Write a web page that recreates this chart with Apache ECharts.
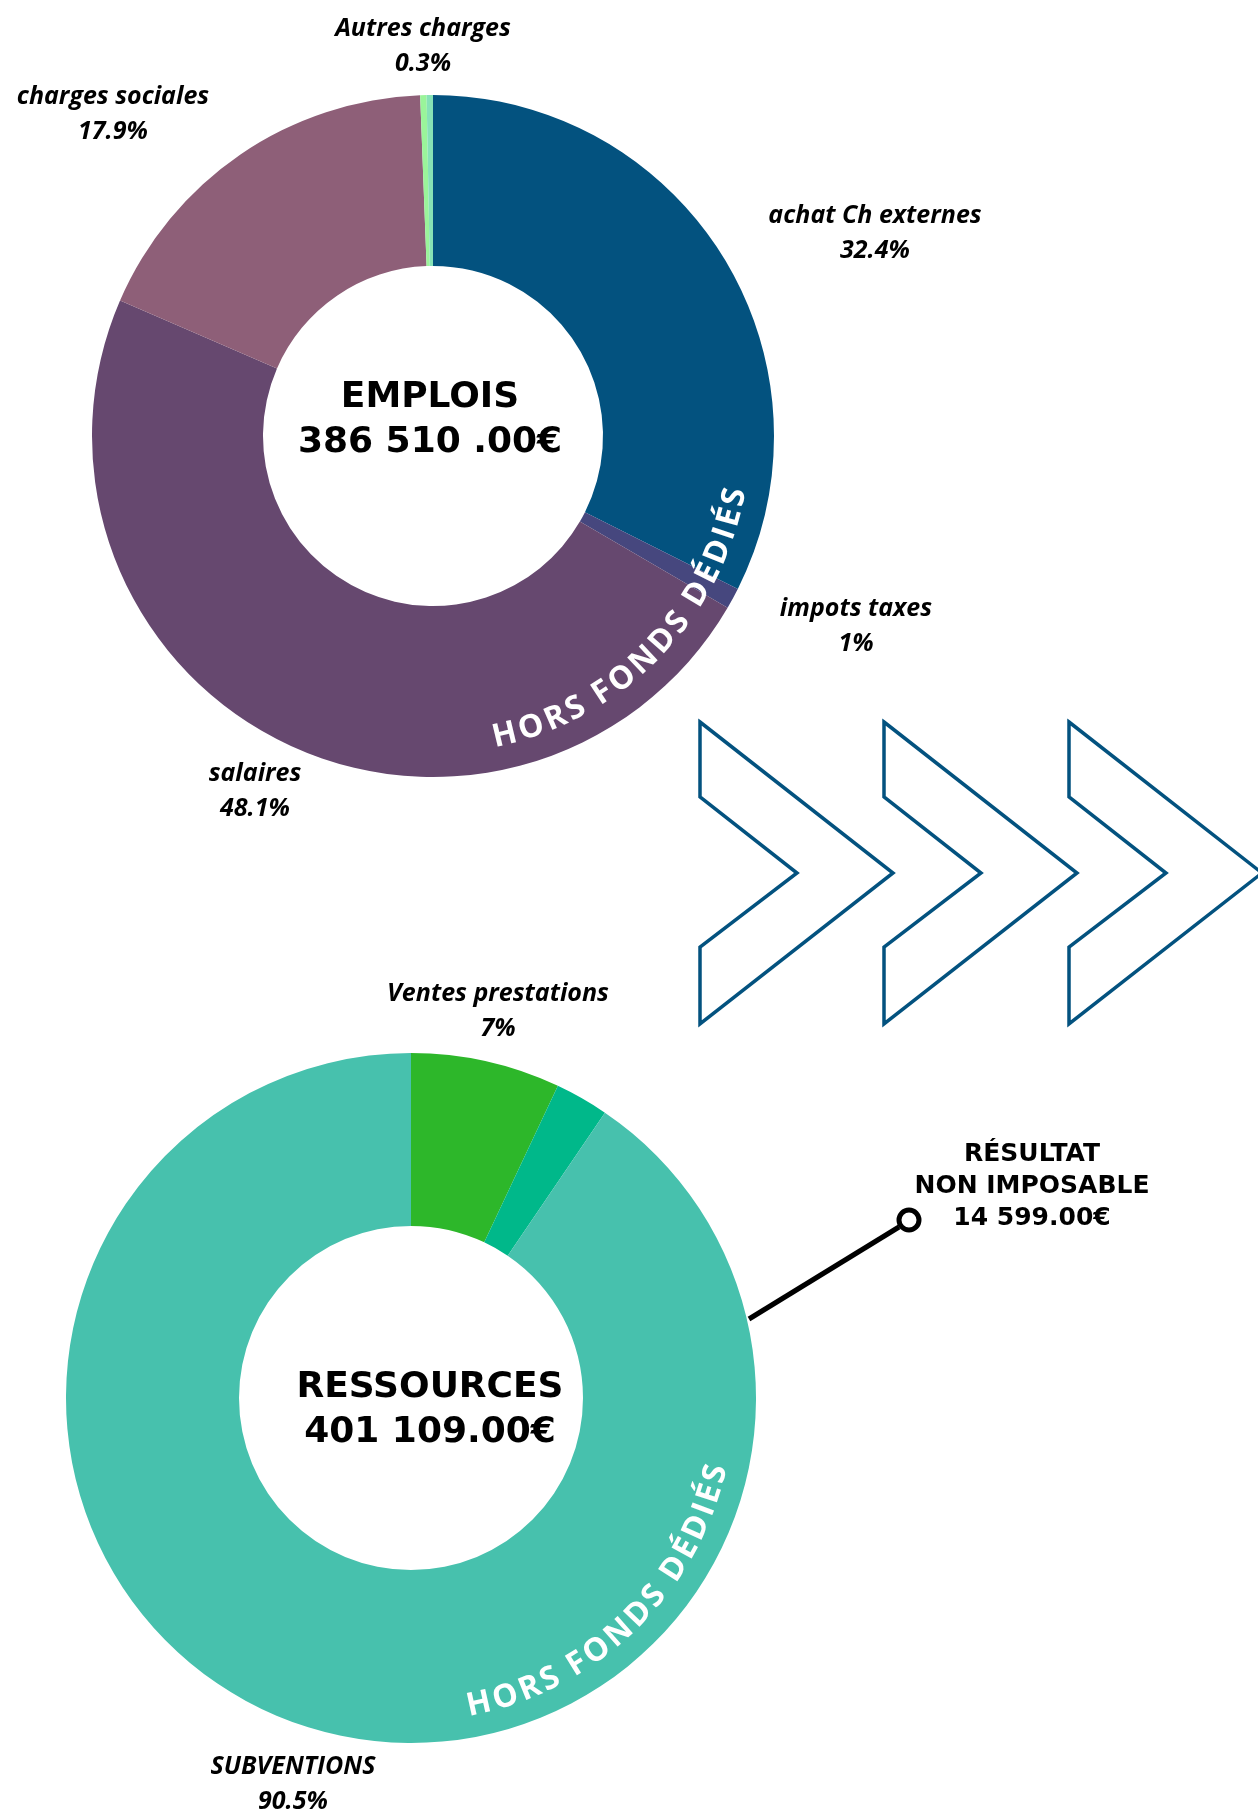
<!DOCTYPE html>
<html>
<head>
<meta charset="utf-8">
<title>Emplois / Ressources</title>
<script src="https://cdn.jsdelivr.net/npm/echarts@6/dist/echarts.min.js"></script>
<style>
  html, body { margin: 0; padding: 0; background: #fff; }
  #chart { width: 1258px; height: 1812px; }
</style>
</head>
<body>
<div id="chart"></div>
<script>
// --- emplois (charges) ---
// last slice is the thin unlabelled one at 12 o'clock
const emploisNames = ["achat Ch externes", "impots taxes", "salaires", "charges sociales", "Autres charges", "autres"];
const emploisValues = [32.4, 1, 48.1, 17.9, 0.3, 0.3];
const emploisTitle = "EMPLOIS";
const emploisTotal = "386 510 .00€";

// --- ressources (produits) ---
const ressourcesNames = ["Ventes prestations", "Autres produits", "SUBVENTIONS"];
const ressourcesValues = [7, 2.5, 90.5];
const ressourcesTitle = "RESSOURCES";
const ressourcesTotal = "401 109.00€";

// --- resultat ---
const resultatLines = ["RÉSULTAT", "NON IMPOSABLE", "14 599.00€"];
const ringText = "HORS FONDS DÉDIÉS";

// colours
const emploisColors = ["#03527f", "#46477e", "#66486f", "#8e5f78", "#9af49a", "#86e2b6"];
const ressourcesColors = ["#2db72a", "#00b88a", "#47c1ad"];
const navy = "#03527f";

// where the outside labels sit (centre of the two lines)
const emploisLabelSpots = [[875, 233], [856, 626], [255, 791], [113, 114], [423, 46], null];
const ressourcesLabelSpots = [[498, 1011], null, [293, 1784]];

const topPie = { cx: 433, cy: 436, r0: 170, r1: 341 };
const botPie = { cx: 411, cy: 1398, r0: 172, r1: 345 };

const labelFont = {
  fontFamily: "Open Sans",
  fontStyle: "italic",
  fontWeight: "bold",
  fontSize: 25,
  lineHeight: 35,
  color: "#000"
};

function pieSeries(pie, names, values, colors, spots) {
  return {
    type: "pie",
    center: [pie.cx, pie.cy],
    radius: [pie.r0, pie.r1],
    startAngle: 90,
    clockwise: true,
    silent: true,
    animation: false,
    avoidLabelOverlap: false,
    z: 2,
    label: Object.assign({ show: true, formatter: "{b}\n{c}%", align: "center" }, labelFont),
    labelLine: { show: false },
    labelLayout: function(params) {
      const p = spots[params.dataIndex];
      if (!p) return {};
      return { x: p[0], y: p[1], align: "center", verticalAlign: "middle" };
    },
    itemStyle: { borderWidth: 0 },
    data: names.map((n, i) => ({
      name: n,
      value: values[i],
      itemStyle: { color: colors[i] },
      label: { show: !!spots[i] }
    }))
  };
}

// curved white text laid along the ring, one glyph at a time
const measureCtx = document.createElement("canvas").getContext("2d");
function arcText(pie, r, startDeg, endDeg, text, size) {
  const font = "bold " + size + "px 'Open Sans'";
  measureCtx.font = font;
  const chars = text.split("");
  const widths = chars.map(c => measureCtx.measureText(c).width);
  const n = chars.length;
  const span = r * (startDeg - endDeg) * Math.PI / 180;
  const inner = widths.reduce((a, b) => a + b, 0) - widths[0] / 2 - widths[n - 1] / 2;
  const gap = (span - inner) / (n - 1);
  const out = [];
  let s = 0;
  for (let i = 0; i < n; i++) {
    if (i > 0) s += widths[i - 1] / 2 + gap + widths[i] / 2;
    const th = (startDeg - (s / r) * 180 / Math.PI) * Math.PI / 180;
    if (chars[i] === " ") continue;
    out.push({
      type: "text",
      x: pie.cx + r * Math.sin(th),
      y: pie.cy - r * Math.cos(th),
      rotation: Math.PI - th,
      silent: true,
      z: 100,
      style: {
        text: chars[i],
        font: font,
        fill: "#fff",
        align: "center",
        verticalAlign: "middle"
      }
    });
  }
  return out;
}

function chevron(left) {
  return {
    type: "polygon",
    silent: true,
    shape: {
      points: [[left, 722], [left + 193, 873], [left, 1024], [left, 947], [left + 97, 873], [left, 797]]
    },
    style: { fill: "none", stroke: navy, lineWidth: 3.5, lineJoin: "miter" }
  };
}

function bigText(x, y, text, size) {
  return {
    type: "text",
    x: x,
    y: y,
    silent: true,
    z: 100,
    style: {
      text: text,
      font: "bold " + size + "px 'DejaVu Sans'",
      fill: "#000",
      align: "center",
      verticalAlign: "middle"
    }
  };
}

const chart = echarts.init(document.getElementById("chart"), null, { renderer: "canvas" });

const graphics = []
  .concat(arcText(topPie, 308, 166.5, 101.5, ringText, 32))
  .concat(arcText(botPie, 314, 167.5, 104, ringText, 32))
  .concat([chevron(700), chevron(884), chevron(1069)])
  .concat([
    bigText(430, 398, emploisTitle, 36),
    bigText(430, 443, emploisTotal, 36),
    bigText(430, 1388, ressourcesTitle, 36),
    bigText(430, 1433, ressourcesTotal, 36),
    bigText(1032, 1154, resultatLines[0], 25),
    bigText(1032, 1186, resultatLines[1], 25),
    bigText(1032, 1218, resultatLines[2], 25),
    {
      type: "line",
      silent: true,
      z: 100,
      shape: { x1: 749, y1: 1319, x2: 899, y2: 1227 },
      style: { stroke: "#000", lineWidth: 5 }
    },
    {
      type: "circle",
      silent: true,
      z: 101,
      shape: { cx: 909, cy: 1220, r: 10 },
      style: { fill: "#fff", stroke: "#000", lineWidth: 5 }
    }
  ]);

chart.setOption({
  backgroundColor: "#fff",
  animation: false,
  series: [
    pieSeries(topPie, emploisNames, emploisValues, emploisColors, emploisLabelSpots),
    pieSeries(botPie, ressourcesNames, ressourcesValues, ressourcesColors, ressourcesLabelSpots)
  ],
  graphic: { elements: graphics }
});
</script>
</body>
</html>
